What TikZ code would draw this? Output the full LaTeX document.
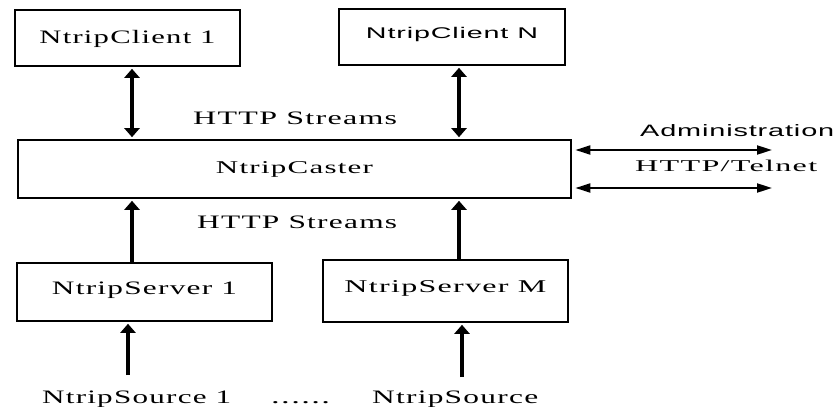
\documentclass[tikz,border=0pt]{standalone}
\usepackage{fontspec}
\usepackage{graphicx}
\usetikzlibrary{arrows.meta}
\newfontfamily\lserif[LetterSpace=4]{Liberation Serif}
\newfontfamily\lsans[LetterSpace=3]{Liberation Sans}
\newcommand\stxt[3]{\resizebox{#1pt}{\height}{\lserif\fontsize{#2pt}{#2pt}\selectfont #3}}
\newcommand\atxt[3]{\resizebox{#1pt}{\height}{\lsans\fontsize{#2pt}{#2pt}\selectfont #3}}
\tikzset{
  blk/.style={draw, line width=2.8pt, inner sep=0pt, fill=white, text height=12pt},
  lbl/.style={inner sep=0pt, anchor=base west},
  fatarrow/.style={line width=4pt, -{Triangle[width=15pt,length=9pt]}},
  fatboth/.style={line width=4pt, {Triangle[width=15pt,length=9pt]}-{Triangle[width=15pt,length=9pt]}},
  thinboth/.style={line width=2pt, {Triangle[width=9pt,length=15pt]}-{Triangle[width=9pt,length=15pt]}}
}
\begin{document}
\begin{tikzpicture}[x=1pt,y=-1pt]
\useasboundingbox[fill=white] (0,0) rectangle (836,407);
% boxes
\node[blk, minimum width=225pt, minimum height=56pt, text depth=2pt] (c1) at (127.5,38) {\stxt{176}{19}{NtripClient 1}};
\node[blk, minimum width=226pt, minimum height=56pt, text depth=10pt] (cn) at (452,37) {\atxt{172}{15.5}{NtripClient N}};
\node[blk, minimum width=553pt, minimum height=58pt, text depth=4pt] (caster) at (294.5,169) {\stxt{157}{18}{NtripCaster}};
\node[blk, minimum width=255pt, minimum height=58pt, text depth=8pt] (s1) at (144.5,292) {\stxt{185}{19}{NtripServer 1}};
\node[blk, minimum width=245pt, minimum height=62pt, text depth=10pt] (sm) at (445.5,291) {\stxt{202}{18}{NtripServer M}};
% labels
\node[lbl] (hs1) at (193,124) {\stxt{204}{19}{HTTP Streams}};
\node[lbl] (hs2) at (197,228) {\stxt{200}{19}{HTTP Streams}};
\node[lbl] (adm) at (640,136) {\atxt{194}{16.5}{Administration}};
\node[lbl] (tel) at (635,171) {\stxt{182}{16.5}{HTTP/Telnet}};
\node[lbl] (src1) at (42,403) {\stxt{189}{19}{NtripSource 1}};
\node[lbl] (dots) at (271,403) {\stxt{59}{19}{......}};
\node[lbl] (srcm) at (372,403) {\stxt{166}{19}{NtripSource}};
% connector coordinates
\coordinate (ax1) at (132,0);
\coordinate (ax2) at (459,0);
\coordinate (b1) at (128,375);
\coordinate (b2) at (462,377);
\coordinate (r1) at (772,150);
\coordinate (r2) at (772,188);
% connectors
\draw[fatboth, shorten <=1.4pt, shorten >=1.4pt] (c1.south -| ax1) -- (caster.north -| ax1);
\draw[fatboth, shorten <=1.4pt, shorten >=1.4pt] (cn.south -| ax2) -- (caster.north -| ax2);
\draw[fatarrow, shorten >=1.4pt] (s1.north -| ax1) -- (caster.south -| ax1);
\draw[fatarrow, shorten >=1.4pt] (sm.north -| ax2) -- (caster.south -| ax2);
\draw[fatarrow, shorten >=1.4pt] (b1) -- (s1.south -| b1);
\draw[fatarrow, shorten >=1.4pt] (b2) -- (sm.south -| b2);
\draw[thinboth, shorten <=3pt] (caster.east |- r1) -- (r1);
\draw[thinboth, shorten <=3pt] (caster.east |- r2) -- (r2);
\end{tikzpicture}
\end{document}
